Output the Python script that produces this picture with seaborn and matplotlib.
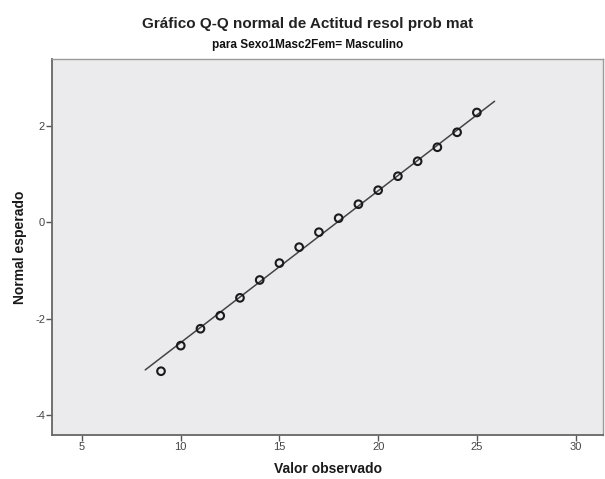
import matplotlib
matplotlib.use("Agg")
import matplotlib.pyplot as plt
import numpy as np
import pandas as pd
import seaborn as sns

# Observed values and their expected normal scores
valor_observado = [9, 10, 11, 12, 13, 14, 15, 16, 17, 18, 19, 20, 21, 22, 23, 24, 25]
normal_esperado = [-3.09, -2.56, -2.21, -1.94, -1.57, -1.20, -0.85, -0.52, -0.21,
                   0.08, 0.37, 0.66, 0.95, 1.26, 1.55, 1.86, 2.27]

# Reference line parameters (sample mean and standard deviation)
media = 17.94
desv = 3.18
linea_x = [8.2, 25.9]

x_ticks = [5, 10, 15, 20, 25, 30]
y_ticks = [-4, -2, 0, 2]

sns.set_theme(style="white")
plt.rcParams["font.family"] = ["Liberation Sans", "DejaVu Sans"]
plt.rcParams["axes.unicode_minus"] = False

fig = plt.figure(figsize=(6.05, 4.79), dpi=100)
ax = fig.add_axes([0.086, 0.092, 0.911, 0.785])
ax.set_facecolor("#EBEBED")

puntos = pd.DataFrame({"x": valor_observado, "y": normal_esperado})
linea = pd.DataFrame({"x": linea_x, "y": [(v - media) / desv for v in linea_x]})

sns.lineplot(data=linea, x="x", y="y", ax=ax, color="#444444", linewidth=1.1)
sns.scatterplot(data=puntos, x="x", y="y", ax=ax, marker="o", s=30,
                facecolor="none", edgecolor="#1a1a1a", linewidth=1.5, zorder=3)

ax.set_xlim(3.48, 31.4)
ax.set_ylim(-4.41, 3.38)
ax.set_xticks(x_ticks)
ax.set_yticks(y_ticks)
ax.tick_params(axis="both", direction="out", length=4, width=1, color="#555555",
               labelsize=8, labelcolor="#444444", pad=1, bottom=True, left=True)

for s in ax.spines.values():
    s.set_color("#9a9a9a")
    s.set_linewidth(1)
ax.spines["left"].set_color("#666666")
ax.spines["bottom"].set_color("#666666")
ax.spines["left"].set_linewidth(1.3)
ax.spines["bottom"].set_linewidth(1.3)

ax.set_xlabel("Valor observado", fontsize=10, fontweight="bold", color="#1a1a1a", labelpad=7)
ax.set_ylabel("Normal esperado", fontsize=10, fontweight="bold", color="#1a1a1a", labelpad=6)

fig.text(0.508, 0.950, "Gráfico Q-Q normal de Actitud resol prob mat", ha="center", va="center",
         fontsize=11, fontweight="bold", color="#222222")
fig.text(0.508, 0.907, "para Sexo1Masc2Fem= Masculino", ha="center", va="center",
         fontsize=8.5, fontweight="bold", color="#111111")

fig.savefig("out.png", dpi=100)
